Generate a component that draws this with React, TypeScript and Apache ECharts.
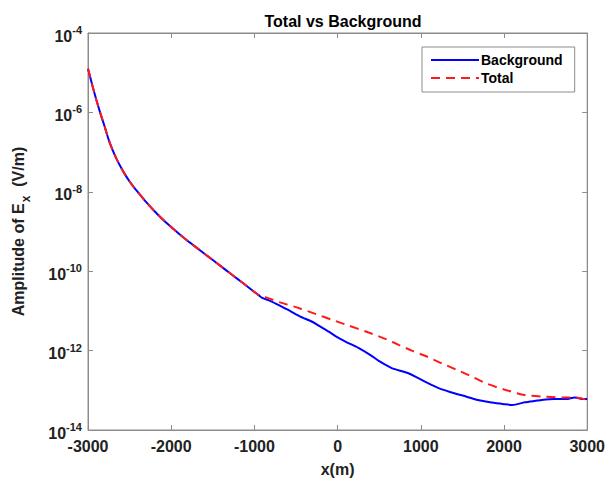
import React, { useEffect, useRef } from "react";
import * as echarts from "echarts";

const bgX = [-3000, -2950, -2900, -2850, -2800, -2750, -2700, -2650, -2600, -2550, -2500, -2450, -2400, -2300, -2200, -2100, -2000, -1900, -1800, -1700, -1600, -1500, -1400, -1300, -1200, -1100, -1000, -950, -900, -820, -700, -600, -460, -300, -220, -100, 0, 100, 250, 400, 500, 650, 850, 1050, 1200, 1350, 1550, 1700, 1850, 2000, 2100, 2250, 2400, 2500, 2600, 2750, 2850, 2950, 3000];
const bgY = [1.26e-5, 5.0e-6, 2.09e-6, 9.3e-7, 4.4e-7, 2.0e-7, 1.07e-7, 6.3e-8, 4.0e-8, 2.63e-8, 1.82e-8, 1.32e-8, 9.8e-9, 5.5e-9, 3.24e-9, 2.0e-9, 1.29e-9, 8.5e-10, 5.75e-10, 3.98e-10, 2.75e-10, 1.91e-10, 1.32e-10, 9.1e-11, 6.3e-11, 4.37e-11, 3.0e-11, 2.5e-11, 2.09e-11, 1.82e-11, 1.38e-11, 1.07e-11, 7.4e-12, 5.25e-12, 4.17e-12, 2.95e-12, 2.14e-12, 1.66e-12, 1.17e-12, 7.6e-13, 5.4e-13, 3.63e-13, 2.69e-13, 1.66e-13, 1.17e-13, 9.1e-14, 6.9e-14, 5.6e-14, 4.9e-14, 4.47e-14, 4.27e-14, 5.0e-14, 5.5e-14, 5.9e-14, 6.0e-14, 6.0e-14, 6.6e-14, 6.0e-14, 6.0e-14];

const totX = [-3000, -2950, -2900, -2850, -2800, -2750, -2700, -2650, -2600, -2550, -2500, -2450, -2400, -2300, -2200, -2100, -2000, -1900, -1800, -1700, -1600, -1500, -1400, -1300, -1200, -1100, -1000, -950, -860, -700, -460, -260, -60, 120, 340, 580, 740, 900, 1050, 1250, 1450, 1620, 1800, 2000, 2250, 2500, 2750, 2850, 3000];
const totY = [1.26e-5, 5.0e-6, 2.09e-6, 9.3e-7, 4.4e-7, 2.0e-7, 1.07e-7, 6.3e-8, 4.0e-8, 2.63e-8, 1.82e-8, 1.32e-8, 9.8e-9, 5.5e-9, 3.24e-9, 2.0e-9, 1.29e-9, 8.5e-10, 5.75e-10, 3.98e-10, 2.75e-10, 1.91e-10, 1.32e-10, 9.1e-11, 6.3e-11, 4.37e-11, 3.0e-11, 2.5e-11, 2.19e-11, 1.66e-11, 1.17e-11, 8.3e-12, 5.9e-12, 4.37e-12, 3.02e-12, 1.95e-12, 1.38e-12, 9.8e-13, 7.4e-13, 4.79e-13, 3.16e-13, 2.19e-13, 1.45e-13, 1.05e-13, 7.6e-14, 6.9e-14, 6.6e-14, 6.6e-14, 5.75e-14];

const xTicks = { min: -3000, max: 3000, interval: 1000 };
const yExpMin = -14;
const yExpMax = -4;

const FONT = "Liberation Sans, Arial, sans-serif";
const AXIS_GREY = "#8c8c8c";

export default function App() {
  const ref = useRef<HTMLDivElement>(null);
  useEffect(() => {
    if (!ref.current) return;
    const chart = echarts.init(ref.current, null, { renderer: "svg" });
    const tickStyle = { inside: true, length: 5, lineStyle: { color: AXIS_GREY, width: 1 } };
    const axisLine = { show: true, onZero: false, lineStyle: { color: AXIS_GREY, width: 1 } };
    const yFormatter = (v: number) => {
      const e = Math.round(Math.log10(v));
      return "{b|10}{s|" + e + "}";
    };
    chart.setOption({
      animation: false,
      backgroundColor: "#ffffff",
      textStyle: { fontFamily: FONT },
      title: {
        text: "Total vs Background",
        left: 338,
        textAlign: "center",
        top: 8,
        textStyle: { fontFamily: FONT, fontSize: 16, fontWeight: "bold", color: "#000" },
      },
      grid: { left: 88, right: 19, top: 33, bottom: 52, show: true, borderColor: AXIS_GREY, borderWidth: 1 },
      legend: {
        orient: "vertical",
        left: 422,
        top: 47,
        padding: [6, 12, 7, 8],
        itemGap: 4,
        itemWidth: 48,
        itemHeight: 14,
        borderColor: AXIS_GREY,
        borderWidth: 1,
        backgroundColor: "#fff",
        itemStyle: { opacity: 0 },
        textStyle: { fontFamily: FONT, fontSize: 14, fontWeight: "bold", color: "#000", padding: [0, 0, 0, -3] },
        data: ["Background", "Total"],
      },
      xAxis: [
        {
          type: "value",
          min: xTicks.min,
          max: xTicks.max,
          interval: xTicks.interval,
          axisLine,
          axisTick: tickStyle,
          splitLine: { show: false },
          axisLabel: {
            margin: 8,
            fontFamily: FONT,
            fontSize: 16,
            fontWeight: "bold",
            color: "#222",
            formatter: (v: number) => String(v),
          },
          name: "x(m)",
          nameLocation: "middle",
          nameGap: 31,
          nameTextStyle: { fontFamily: FONT, fontSize: 16, fontWeight: "bold", color: "#222" },
        },
        {
          type: "value",
          position: "top",
          min: xTicks.min,
          max: xTicks.max,
          interval: xTicks.interval,
          axisLine,
          axisTick: tickStyle,
          axisLabel: { show: false },
          splitLine: { show: false },
        },
      ],
      yAxis: [
        {
          type: "log",
          logBase: 10,
          min: Math.pow(10, yExpMin),
          max: Math.pow(10, yExpMax),
          interval: 2,
          axisLine,
          axisTick: tickStyle,
          minorTick: { show: false },
          splitLine: { show: false },
          axisLabel: {
            margin: 6,
            formatter: yFormatter,
            rich: {
              b: { fontFamily: FONT, fontSize: 16, fontWeight: "bold", color: "#222", padding: [6, 0, 0, 0] },
              s: { fontFamily: FONT, fontSize: 11, fontWeight: "bold", color: "#222", padding: [0, 0, 6, 0] },
            },
          },
          name: "{a|Amplitude of E}{sub|x}{a|  (V/m)}",
          nameLocation: "middle",
          nameGap: 56,
          nameRotate: 90,
          nameTextStyle: {
            rich: {
              a: { fontFamily: FONT, fontSize: 16, fontWeight: "bold", color: "#222", padding: [0, 0, 6, 0] },
              sub: { fontFamily: FONT, fontSize: 12, fontWeight: "bold", color: "#222", padding: [10, 0, 0, 1] },
            },
          },
        },
        {
          type: "log",
          logBase: 10,
          position: "right",
          min: Math.pow(10, yExpMin),
          max: Math.pow(10, yExpMax),
          interval: 2,
          axisLine,
          axisTick: tickStyle,
          minorTick: { show: false },
          axisLabel: { show: false },
          splitLine: { show: false },
        },
      ],
      series: [
        {
          name: "Background",
          type: "line",
          xAxisIndex: 0,
          yAxisIndex: 0,
          symbol: "none",
          smooth: 0.25,
          lineStyle: { color: "#0000ff", width: 2 },
          itemStyle: { color: "#0000ff" },
          data: bgX.map((x, i) => [x, bgY[i]]),
          z: 2,
        },
        {
          name: "Total",
          type: "line",
          xAxisIndex: 0,
          yAxisIndex: 0,
          symbol: "none",
          smooth: 0.25,
          lineStyle: { color: "#ff1a1a", width: 2, type: [9, 6] },
          itemStyle: { color: "#ff1a1a" },
          data: totX.map((x, i) => [x, totY[i]]),
          z: 3,
        },
      ],
    });
    return () => chart.dispose();
  }, []);
  return (
    <div
      ref={ref}
      style={{ position: "fixed", left: 0, top: 0, width: 608, height: 482, background: "#fff" }}
    />
  );
}
